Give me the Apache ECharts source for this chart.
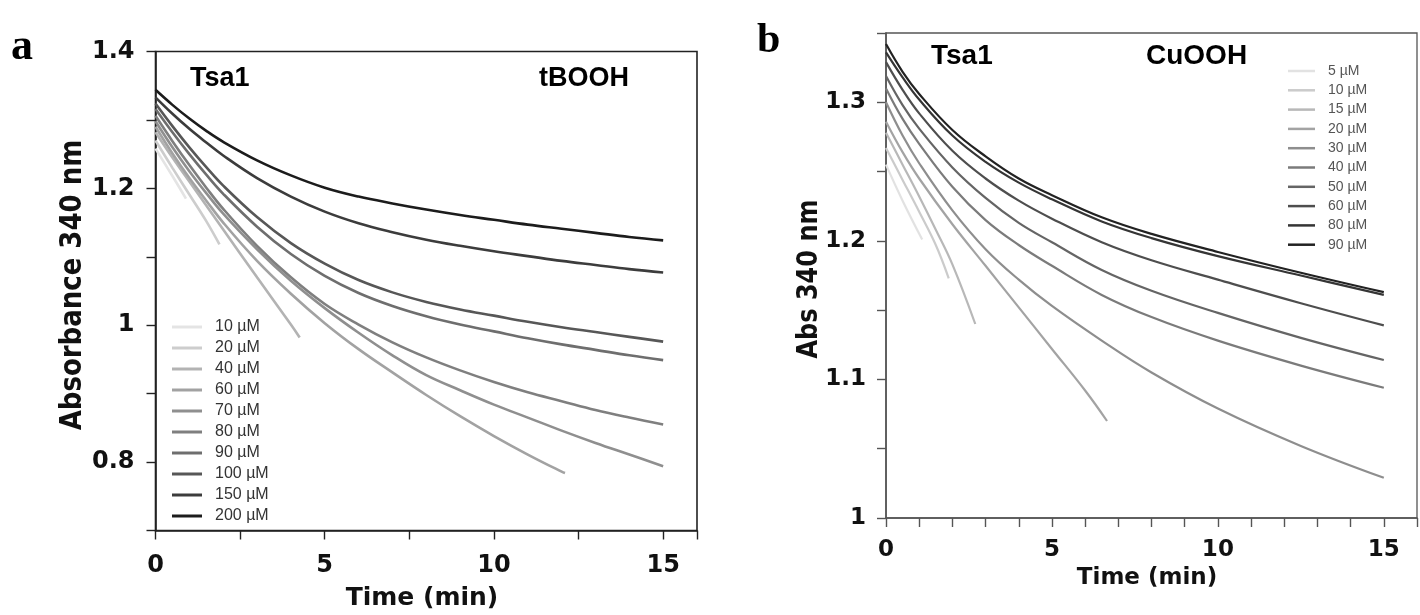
<!DOCTYPE html>
<html>
<head>
<meta charset="utf-8">
<script src="https://cdn.jsdelivr.net/npm/echarts@6/dist/echarts.min.js"></script>
<style>
html,body{margin:0;padding:0;background:#fff;}
#chart{width:1420px;height:615px;}
</style>
</head>
<body>
<div id="chart"></div>
<script>
// ---------- Panel a (tBOOH) ----------
const timeA = [0, 0.5, 1, 1.5, 2, 3, 4, 5, 6, 7, 8, 9, 10, 11, 12, 13, 14, 15];
const labelsA = ['10 µM', '20 µM', '40 µM', '60 µM', '70 µM', '80 µM', '90 µM', '100 µM', '150 µM', '200 µM'];
const colorsA = ['#e4e4e4', '#cdcdcd', '#b3b3b3', '#a2a2a2', '#8f8f8f', '#7f7f7f', '#6e6e6e', '#575757', '#3c3c3c', '#1c1c1c'];
const tA10 = [0, 0.5, 0.9];
const vA10 = [1.258, 1.218, 1.185];
const tA20 = [0, 0.5, 1, 1.5, 1.89];
const vA20 = [1.270, 1.230, 1.191, 1.152, 1.118];
const tA40 = [0, 0.5, 1, 2, 3, 4, 4.26];
const vA40 = [1.282, 1.245, 1.210, 1.140, 1.070, 1.001, 0.982];
const tA60 = [0, 0.5, 1, 1.5, 2, 3, 4, 5, 6, 7, 8, 9, 10, 11, 12, 12.1];
const vA60 = [1.290, 1.251, 1.215, 1.182, 1.150, 1.094, 1.046, 1.003, 0.965, 0.931, 0.898, 0.867, 0.838, 0.811, 0.786, 0.784];
const vA70 = [1.298, 1.260, 1.225, 1.193, 1.163, 1.111, 1.065, 1.025, 0.989, 0.956, 0.927, 0.905, 0.884, 0.865, 0.846, 0.828, 0.811, 0.794];
const vA80 = [1.306, 1.269, 1.234, 1.201, 1.170, 1.116, 1.070, 1.031, 1.001, 0.975, 0.953, 0.934, 0.917, 0.902, 0.889, 0.876, 0.865, 0.855];
const vA90 = [1.316, 1.282, 1.250, 1.220, 1.192, 1.144, 1.104, 1.072, 1.047, 1.028, 1.013, 1.001, 0.991, 0.981, 0.972, 0.964, 0.956, 0.949];
const vA100 = [1.324, 1.291, 1.260, 1.231, 1.204, 1.158, 1.120, 1.090, 1.066, 1.048, 1.034, 1.023, 1.014, 1.005, 0.997, 0.990, 0.983, 0.976];
const vA150 = [1.333, 1.309, 1.287, 1.267, 1.248, 1.215, 1.188, 1.166, 1.149, 1.136, 1.125, 1.116, 1.108, 1.101, 1.094, 1.088, 1.082, 1.077];
const vA200 = [1.344, 1.322, 1.302, 1.284, 1.268, 1.241, 1.219, 1.201, 1.188, 1.178, 1.169, 1.161, 1.154, 1.147, 1.141, 1.135, 1.129, 1.124];
const curvesA = [
  [tA10, vA10], [tA20, vA20], [tA40, vA40], [tA60, vA60], [timeA, vA70],
  [timeA, vA80], [timeA, vA90], [timeA, vA100], [timeA, vA150], [timeA, vA200]
];

// ---------- Panel b (CuOOH) ----------
const timeB = [0, 0.5, 1, 2, 3, 4, 5, 6.5, 8, 10, 12.5, 15];
const labelsB = ['5 µM', '10 µM', '15 µM', '20 µM', '30 µM', '40 µM', '50 µM', '60 µM', '80 µM', '90 µM'];
const colorsB = ['#e2e2e2', '#cbcbcb', '#b8b8b8', '#a3a3a3', '#8e8e8e', '#7b7b7b', '#656565', '#4e4e4e', '#353535', '#222222'];
const tB5 = [0, 0.5, 1.09];
const vB5 = [1.255, 1.229, 1.201];
const tB10 = [0, 0.5, 1, 1.5, 1.89];
const vB10 = [1.267, 1.244, 1.221, 1.197, 1.173];
const tB15 = [0, 0.5, 1, 1.5, 2, 2.69];
const vB15 = [1.278, 1.255, 1.232, 1.208, 1.183, 1.140];
const tB20 = [0, 0.5, 1, 2, 3, 4, 5, 6, 6.66];
const vB20 = [1.286, 1.264, 1.245, 1.212, 1.182, 1.152, 1.122, 1.092, 1.070];
const vB30 = [1.300, 1.276, 1.256, 1.222, 1.194, 1.172, 1.153, 1.128, 1.105, 1.079, 1.052, 1.029];
const vB40 = [1.310, 1.288, 1.270, 1.239, 1.215, 1.197, 1.182, 1.161, 1.145, 1.128, 1.110, 1.094];
const vB50 = [1.319, 1.298, 1.281, 1.253, 1.231, 1.213, 1.199, 1.179, 1.164, 1.148, 1.130, 1.114];
const vB60 = [1.329, 1.309, 1.292, 1.265, 1.245, 1.229, 1.216, 1.199, 1.186, 1.172, 1.155, 1.139];
const vB80 = [1.336, 1.318, 1.302, 1.276, 1.257, 1.242, 1.230, 1.214, 1.202, 1.189, 1.175, 1.161];
const vB90 = [1.342, 1.322, 1.306, 1.280, 1.261, 1.245, 1.233, 1.217, 1.205, 1.192, 1.177, 1.163];
const curvesB = [
  [tB5, vB5], [tB10, vB10], [tB15, vB15], [tB20, vB20], [timeB, vB30],
  [timeB, vB40], [timeB, vB50], [timeB, vB60], [timeB, vB80], [timeB, vB90]
];

// axis tick labels
const xLabelsShown = [0, 5, 10, 15];
const yLabelsA = [0.8, 1, 1.2, 1.4];
const yLabelsB = [1, 1.1, 1.2, 1.3];

const LBL = 'DejaVu Sans';
const ANN = 'Liberation Sans';

function pairs(t, v) { return t.map((x, i) => [x, v[i]]); }
function pickLabel(list) {
  return function (val) {
    for (const l of list) { if (Math.abs(val - l) < 1e-6) return String(l); }
    return '';
  };
}

const series = [];
curvesA.forEach((c, i) => {
  series.push({
    name: 'A|' + labelsA[i], type: 'line', xAxisIndex: 0, yAxisIndex: 0,
    data: pairs(c[0], c[1]), showSymbol: false, symbol: 'none', smooth: 0.4,
    lineStyle: { width: 2.6, color: colorsA[i] }, itemStyle: { color: colorsA[i] },
    animation: false, silent: true
  });
});
curvesB.forEach((c, i) => {
  series.push({
    name: 'B|' + labelsB[i], type: 'line', xAxisIndex: 1, yAxisIndex: 1,
    data: pairs(c[0], c[1]), showSymbol: false, symbol: 'none', smooth: 0.4,
    lineStyle: { width: 2.2, color: colorsB[i] }, itemStyle: { color: colorsB[i] },
    animation: false, silent: true
  });
});

function xAxis(gridIndex, interval, fontSize, margin, color) {
  return {
    type: 'value', gridIndex, min: 0, max: 16, interval,
    axisLine: { show: true, onZero: false, lineStyle: { color, width: 1.6 } },
    axisTick: { show: true, inside: false, length: 9, lineStyle: { color, width: 1.4 } },
    axisLabel: { margin, fontFamily: LBL, fontWeight: 'bold', fontSize, color: '#111', formatter: pickLabel(xLabelsShown), showMaxLabel: true },
    splitLine: { show: false }
  };
}
function yAxis(gridIndex, min, max, interval, labels, fontSize, margin, color) {
  return {
    type: 'value', gridIndex, min, max, interval,
    axisLine: { show: true, onZero: false, lineStyle: { color, width: 1.6 } },
    axisTick: { show: true, inside: false, length: 9, lineStyle: { color, width: 1.4 } },
    axisLabel: { margin, fontFamily: LBL, fontWeight: 'bold', fontSize, color: '#111', formatter: pickLabel(labels) },
    splitLine: { show: false }
  };
}

const legendFmt = name => name.split('|')[1];

const option = {
  animation: false,
  backgroundColor: '#ffffff',
  grid: [
    { left: 155.5, top: 51.5, width: 541.5, height: 479, show: true, borderColor: '#222', borderWidth: 1.6, backgroundColor: 'transparent' },
    { left: 886, top: 33, width: 532, height: 485, show: true, borderColor: '#555', borderWidth: 1.3, backgroundColor: 'transparent' }
  ],
  xAxis: [
    xAxis(0, 2.5, 24, 23, '#222'),
    xAxis(1, 1, 23, 21, '#555')
  ],
  yAxis: [
    yAxis(0, 0.7, 1.4, 0.1, yLabelsA, 24, 21, '#222'),
    yAxis(1, 1.0, 1.35, 0.05, yLabelsB, 23, 20, '#555')
  ],
  legend: [
    {
      data: labelsA.map(l => 'A|' + l), formatter: legendFmt,
      orient: 'vertical', left: 172, top: 319, padding: 0,
      itemWidth: 30, itemHeight: 3, itemGap: 5, icon: 'rect', selectedMode: false,
      textStyle: { fontFamily: ANN, fontSize: 16, lineHeight: 16, color: '#333', padding: [0, 0, 0, 8] }
    },
    {
      data: labelsB.map(l => 'B|' + l), formatter: legendFmt,
      orient: 'vertical', left: 1288, top: 64, padding: 0,
      itemWidth: 27, itemHeight: 2.5, itemGap: 5.3, icon: 'rect', selectedMode: false,
      textStyle: { fontFamily: ANN, fontSize: 14, lineHeight: 14, color: '#555', padding: [0, 0, 0, 8] }
    }
  ],
  graphic: [
    { type: 'text', left: 11, top: 26, style: { text: 'a', font: 'bold 44px "Liberation Serif"', fill: '#000' } },
    { type: 'text', left: 757, top: 20, style: { text: 'b', font: 'bold 42px "Liberation Serif"', fill: '#000' } },
    { type: 'text', x: 190, y: 78.5, style: { text: 'Tsa1', font: 'bold 27px "Liberation Sans"', fill: '#000', textVerticalAlign: 'middle' } },
    { type: 'text', x: 539, y: 78.5, style: { text: 'tBOOH', font: 'bold 27px "Liberation Sans"', fill: '#000', textVerticalAlign: 'middle' } },
    { type: 'text', x: 931, y: 56, style: { text: 'Tsa1', font: 'bold 28px "Liberation Sans"', fill: '#000', textVerticalAlign: 'middle' } },
    { type: 'text', x: 1146, y: 56, style: { text: 'CuOOH', font: 'bold 28px "Liberation Sans"', fill: '#000', textVerticalAlign: 'middle' } },
    { type: 'text', x: 73, y: 285, rotation: Math.PI / 2, scaleY: 1.18, style: { text: 'Absorbance 340 nm', font: 'bold 26px "DejaVu Sans"', fill: '#111', textAlign: 'center', textVerticalAlign: 'middle' } },
    { type: 'text', x: 422, y: 598, style: { text: 'Time (min)', font: 'bold 25px "DejaVu Sans"', fill: '#111', textAlign: 'center', textVerticalAlign: 'middle' } },
    { type: 'text', x: 810, y: 279, rotation: Math.PI / 2, scaleY: 1.15, style: { text: 'Abs 340 nm', font: 'bold 24px "DejaVu Sans"', fill: '#111', textAlign: 'center', textVerticalAlign: 'middle' } },
    { type: 'text', x: 1147, y: 578, style: { text: 'Time (min)', font: 'bold 23px "DejaVu Sans"', fill: '#111', textAlign: 'center', textVerticalAlign: 'middle' } }
  ],
  series
};

const chart = echarts.init(document.getElementById('chart'), null, { renderer: 'canvas' });
chart.setOption(option);
</script>
</body>
</html>
